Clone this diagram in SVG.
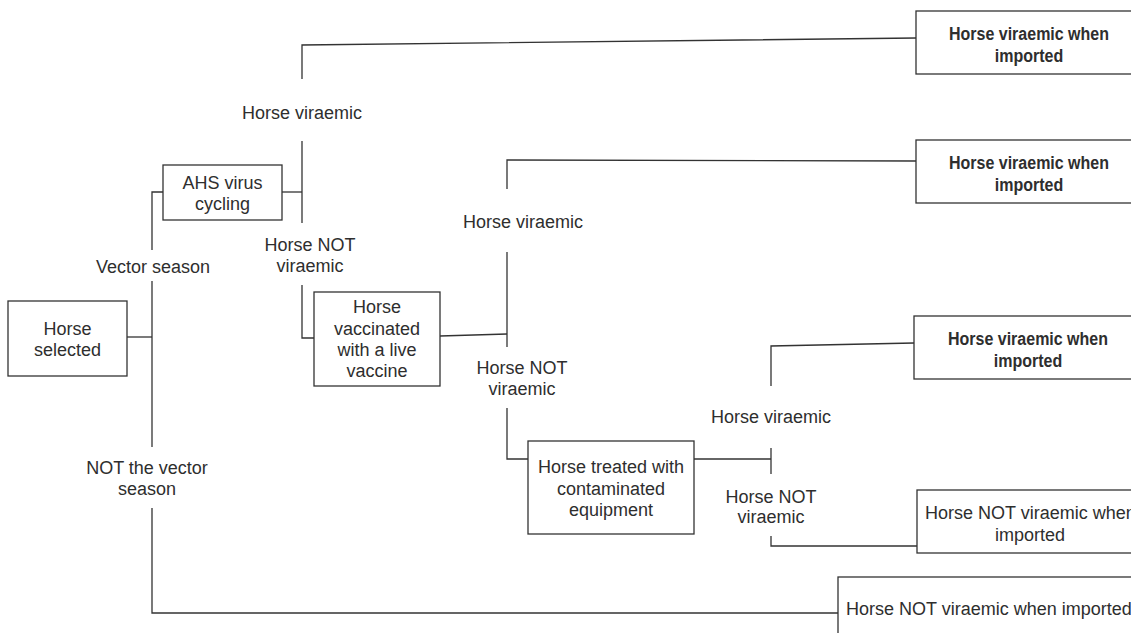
<svg xmlns="http://www.w3.org/2000/svg" width="1131" height="633" viewBox="0 0 1131 633">
  <style>
    .box { fill: #ffffff; stroke: #333333; stroke-width: 1.3; }
    .wire { fill: none; stroke: #333333; stroke-width: 1.3; }
    .t { font-family: "Liberation Sans", Arial, sans-serif; font-size: 18px; fill: #2e2e2e; text-anchor: middle; }
    .ts { font-family: "Liberation Sans", Arial, sans-serif; font-size: 18px; fill: #2e2e2e; text-anchor: start; }
    .b { font-family: "Liberation Sans", Arial, sans-serif; font-size: 18.5px; font-weight: bold; fill: #2e2e2e; text-anchor: middle; }
  </style>
  <rect width="1131" height="633" fill="#ffffff"/>

  <!-- connectors -->
  <g id="connectors">
    <polyline class="wire" points="127,337 152,337"/>
    <polyline class="wire" points="152,250 152,192 163,192"/>
    <line class="wire" x1="152" y1="281" x2="152" y2="447"/>
    <polyline class="wire" points="152,508 152,613 846,613"/>
    <line class="wire" x1="282" y1="192" x2="302" y2="192"/>
    <line class="wire" x1="302" y1="141" x2="302" y2="223"/>
    <polyline class="wire" points="302,79 302,45 916,38"/>
    <polyline class="wire" points="302,285 302,338 314,338"/>
    <line class="wire" x1="440" y1="336" x2="507" y2="334"/>
    <line class="wire" x1="507" y1="252" x2="507" y2="347"/>
    <polyline class="wire" points="507,189 507,160 916,161"/>
    <polyline class="wire" points="507,408 507,459 528,459"/>
    <line class="wire" x1="694" y1="459" x2="771" y2="459"/>
    <line class="wire" x1="771" y1="448" x2="771" y2="474"/>
    <polyline class="wire" points="771,386 771,346 914,343"/>
    <polyline class="wire" points="771,536 771,546 921,546 921,541"/>
  </g>

  <!-- branch labels -->
  <g id="labels">
    <text class="t" x="302" y="119">Horse viraemic</text>
    <text class="t" x="310" y="251">Horse NOT</text>
    <text class="t" x="310" y="272">viraemic</text>
    <text class="t" x="153" y="273">Vector season</text>
    <text class="t" x="147" y="474">NOT the vector</text>
    <text class="t" x="147" y="495">season</text>
    <text class="t" x="523" y="228">Horse viraemic</text>
    <text class="t" x="522" y="374">Horse NOT</text>
    <text class="t" x="522" y="395">viraemic</text>
    <text class="t" x="771" y="423">Horse viraemic</text>
    <text class="t" x="771" y="503">Horse NOT</text>
    <text class="t" x="771" y="523">viraemic</text>
  </g>

  <g id="horse-selected">
    <rect class="box" x="8" y="301" width="119" height="75"/>
    <text class="t" x="67.5" y="335">Horse</text>
    <text class="t" x="67.5" y="356">selected</text>
  </g>

  <g id="ahs-cycling">
    <rect class="box" x="163" y="165" width="119" height="55"/>
    <text class="t" x="222.5" y="189">AHS virus</text>
    <text class="t" x="222.5" y="210">cycling</text>
  </g>

  <g id="live-vaccine">
    <rect class="box" x="314" y="292" width="126" height="94"/>
    <text class="t" x="377" y="313">Horse</text>
    <text class="t" x="377" y="335">vaccinated</text>
    <text class="t" x="377" y="356">with a live</text>
    <text class="t" x="377" y="377">vaccine</text>
  </g>

  <g id="contaminated-equipment">
    <rect class="box" x="528" y="441" width="166" height="93"/>
    <text class="t" x="611" y="473">Horse treated with</text>
    <text class="t" x="611" y="495">contaminated</text>
    <text class="t" x="611" y="516">equipment</text>
  </g>

  <g id="outcome-1">
    <rect class="box" x="916" y="11" width="230" height="63"/>
    <text class="b" transform="translate(1029,40) scale(0.865,1)">Horse viraemic when</text>
    <text class="b" transform="translate(1029,62) scale(0.865,1)">imported</text>
  </g>

  <g id="outcome-2">
    <rect class="box" x="916" y="140" width="230" height="63"/>
    <text class="b" transform="translate(1029,169) scale(0.865,1)">Horse viraemic when</text>
    <text class="b" transform="translate(1029,191) scale(0.865,1)">imported</text>
  </g>

  <g id="outcome-3">
    <rect class="box" x="914" y="316" width="230" height="63"/>
    <text class="b" transform="translate(1028,345) scale(0.865,1)">Horse viraemic when</text>
    <text class="b" transform="translate(1028,367) scale(0.865,1)">imported</text>
  </g>

  <g id="outcome-4">
    <rect class="box" x="917" y="490" width="230" height="63"/>
    <text class="ts" x="925" y="519">Horse NOT viraemic when</text>
    <text class="t" x="1030" y="541">imported</text>
  </g>

  <g id="outcome-5">
    <rect class="box" x="838" y="577" width="310" height="70"/>
    <text class="ts" x="846" y="615">Horse NOT viraemic when imported</text>
  </g>
</svg>
